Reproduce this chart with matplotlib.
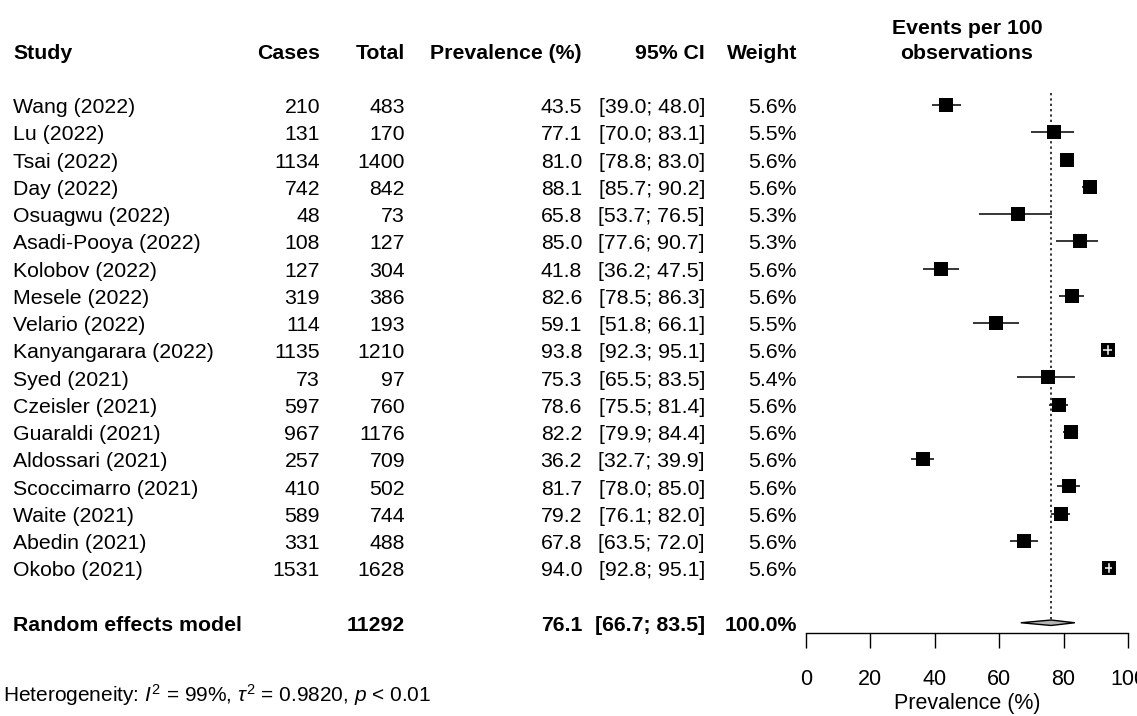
import matplotlib
matplotlib.use("Agg")
import matplotlib.pyplot as plt
import matplotlib.transforms as mtransforms
from matplotlib.patches import Polygon
import numpy as np

plt.rcParams['font.family'] = ['Liberation Sans', 'DejaVu Sans']
plt.rcParams['mathtext.fontset'] = 'custom'
plt.rcParams['mathtext.rm'] = 'Liberation Sans'
plt.rcParams['mathtext.it'] = 'Liberation Sans:italic'

# ---------------- data ----------------
studies = ["Wang (2022)", "Lu (2022)", "Tsai (2022)", "Day (2022)", "Osuagwu (2022)",
           "Asadi-Pooya (2022)", "Kolobov (2022)", "Mesele (2022)", "Velario (2022)",
           "Kanyangarara (2022)", "Syed (2021)", "Czeisler (2021)", "Guaraldi (2021)",
           "Aldossari (2021)", "Scoccimarro (2021)", "Waite (2021)", "Abedin (2021)",
           "Okobo (2021)"]
cases = [210, 131, 1134, 742, 48, 108, 127, 319, 114, 1135, 73, 597, 967, 257, 410, 589, 331, 1531]
totals = [483, 170, 1400, 842, 73, 127, 304, 386, 193, 1210, 97, 760, 1176, 709, 502, 744, 488, 1628]
prevalence = [43.5, 77.1, 81.0, 88.1, 65.8, 85.0, 41.8, 82.6, 59.1, 93.8, 75.3, 78.6, 82.2,
              36.2, 81.7, 79.2, 67.8, 94.0]
ci_lower = [39.0, 70.0, 78.8, 85.7, 53.7, 77.6, 36.2, 78.5, 51.8, 92.3, 65.5, 75.5, 79.9,
            32.7, 78.0, 76.1, 63.5, 92.8]
ci_upper = [48.0, 83.1, 83.0, 90.2, 76.5, 90.7, 47.5, 86.3, 66.1, 95.1, 83.5, 81.4, 84.4,
            39.9, 85.0, 82.0, 72.0, 95.1]
weights = [5.6, 5.5, 5.6, 5.6, 5.3, 5.3, 5.6, 5.6, 5.5, 5.6, 5.4, 5.6, 5.6, 5.6, 5.6, 5.6, 5.6, 5.6]

pooled_label = "Random effects model"
pooled_total = 11292
pooled_est = 76.1
pooled_lower = 66.7
pooled_upper = 83.5
pooled_weight = 100.0

x_ticks = [0, 20, 40, 60, 80, 100]
col_headers = ["Study", "Cases", "Total", "Prevalence (%)", "95% CI", "Weight"]
heterogeneity = r"Heterogeneity: $\mathit{I}^2$ = 99%, $\tau^2$ = 0.9820, $\mathit{p}$ < 0.01"

# ---------------- layout ----------------
W, H = 1137, 716
fig = plt.figure(figsize=(W / 100, H / 100), dpi=100)
ax_left, ax_right, ax_bottom_px = 806, 1128, 633
row1_px, row_step = 105, 27.25
ylim_top = 1 - row1_px / row_step
ylim_bot = 1 + (ax_bottom_px - row1_px) / row_step
ax = fig.add_axes([ax_left / W, 1 - ax_bottom_px / H, (ax_right - ax_left) / W, ax_bottom_px / H])
ax.set_xlim(0, 100)
ax.set_ylim(ylim_bot, ylim_top)
for s in ["top", "left", "right"]:
    ax.spines[s].set_visible(False)
ax.spines["bottom"].set_linewidth(1.0)
ax.set_yticks([])
ax.set_xticks(x_ticks)
ax.set_xticklabels([str(t) for t in x_ticks])
ax.tick_params(axis="x", length=11, width=1.0, pad=15, labelsize=15.5)
ax.set_xlabel("Prevalence (%)", fontsize=15.5, labelpad=2)
ax.patch.set_alpha(0)

FS = 15.3
tr = mtransforms.blended_transform_factory(fig.transFigure, ax.transData)
tr_ax = mtransforms.blended_transform_factory(ax.transAxes, ax.transData)
def px(x):
    return x / W

n = len(studies)
rows = np.arange(1, n + 1)
pooled_row = n + 2
header_row = -0.9
toff = 0.1  # visual centring of text on a row

# column positions (pixels)
x_study, x_cases, x_total, x_prev, x_ci, x_w = 13, 320, 405, 582, 705, 797

headers_x = [x_study, x_cases, x_total, x_prev, x_ci, x_w]
headers_ha = ["left", "right", "right", "right", "right", "right"]
for h, x, ha in zip(col_headers, headers_x, headers_ha):
    ax.text(px(x), header_row, h, transform=tr, ha=ha, va="center", fontsize=FS, fontweight="bold")
ax.text(0.5, header_row - 0.9, "Events per 100", transform=tr_ax,
        ha="center", va="center", fontsize=FS, fontweight="bold")
ax.text(0.5, header_row, "observations", transform=tr_ax,
        ha="center", va="center", fontsize=FS, fontweight="bold")

for r, st, c, t, p, lo, hi, w in zip(rows, studies, cases, totals, prevalence, ci_lower, ci_upper, weights):
    y = r + toff
    ax.text(px(x_study), y, st, transform=tr, ha="left", va="center", fontsize=FS)
    ax.text(px(x_cases), y, f"{c}", transform=tr, ha="right", va="center", fontsize=FS)
    ax.text(px(x_total), y, f"{t}", transform=tr, ha="right", va="center", fontsize=FS)
    ax.text(px(x_prev), y, f"{p:.1f}", transform=tr, ha="right", va="center", fontsize=FS)
    ax.text(px(x_ci), y, f"[{lo:.1f}; {hi:.1f}]", transform=tr, ha="right", va="center", fontsize=FS)
    ax.text(px(x_w), y, f"{w:.1f}%", transform=tr, ha="right", va="center", fontsize=FS)

# pooled row text
yp = pooled_row + toff
ax.text(px(x_study), yp, pooled_label, transform=tr, ha="left", va="center", fontsize=FS, fontweight="bold")
ax.text(px(x_total), yp, f"{pooled_total}", transform=tr, ha="right", va="center", fontsize=FS, fontweight="bold")
ax.text(px(x_prev), yp, f"{pooled_est:.1f}", transform=tr, ha="right", va="center", fontsize=FS, fontweight="bold")
ax.text(px(x_ci), yp, f"[{pooled_lower:.1f}; {pooled_upper:.1f}]", transform=tr, ha="right", va="center", fontsize=FS, fontweight="bold")
ax.text(px(x_w), yp, f"{pooled_weight:.1f}%", transform=tr, ha="right", va="center", fontsize=FS, fontweight="bold")

fig.text(px(3), 1 - 695 / H, heterogeneity, ha="left", va="center", fontsize=15)

# reference line
ax.plot([pooled_est, pooled_est], [0.55, pooled_row], color="black", lw=1.1, ls=(0, (1.5, 2)), zorder=1)

# squares and CIs
max_side_pt = 10.0
units_per_pt = 100 / ((ax_right - ax_left) * 0.72)  # data units per point
for r, p, lo, hi, w in zip(rows, prevalence, ci_lower, ci_upper, weights):
    side = max_side_pt * np.sqrt(w / max(weights))
    half = side / 2 * units_per_pt
    inside = (p - lo) < half and (hi - p) < half
    if not inside:
        ax.plot([lo, hi], [r, r], color="black", lw=1.1, zorder=2, solid_capstyle="butt")
    ax.plot([p], [r], marker="s", ms=side, color="black", mec="black", mew=0, zorder=3, ls="none")
    if inside:
        ax.plot([lo, hi], [r, r], color="white", lw=1.1, zorder=4, solid_capstyle="butt")
        ax.plot([p, p], [r - 0.14, r + 0.14], color="white", lw=1.1, zorder=4)

# diamond
dh = 0.1
diamond = Polygon([[pooled_lower, pooled_row], [pooled_est, pooled_row - dh],
                   [pooled_upper, pooled_row], [pooled_est, pooled_row + dh]],
                  closed=True, facecolor="#b3b3b3", edgecolor="black", lw=1.0, zorder=5)
ax.add_patch(diamond)

fig.savefig("out.png", dpi=100)
